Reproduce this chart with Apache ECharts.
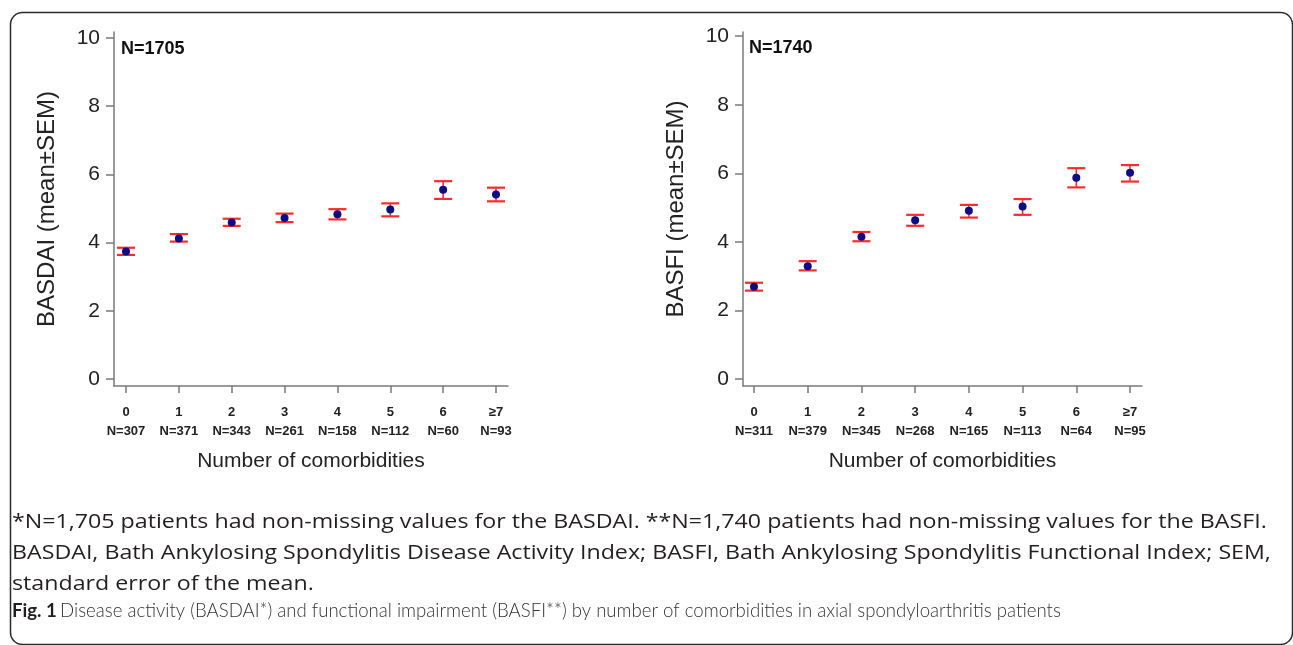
<!DOCTYPE html>
<html>
<head>
<meta charset="utf-8">
<script src="https://cdn.jsdelivr.net/npm/echarts@6/dist/echarts.min.js"></script>
<style>
  html, body { margin: 0; padding: 0; background: #fff; }
  #main { width: 1293px; height: 645px; }
</style>
</head>
<body>
<div id="main"></div>
<script>
/********** data **********/
var cats = ['0', '1', '2', '3', '4', '5', '6', '≥7'];
var yTicks = [0, 2, 4, 6, 8, 10];

var basdaiN = [307, 371, 343, 261, 158, 112, 60, 93];
var basdaiMean = [3.74, 4.12, 4.59, 4.72, 4.83, 4.97, 5.55, 5.41];
var basdaiLow = [3.64, 4.03, 4.49, 4.60, 4.68, 4.77, 5.28, 5.21];
var basdaiHigh = [3.85, 4.25, 4.70, 4.85, 4.98, 5.15, 5.80, 5.61];

var basfiN = [311, 379, 345, 268, 165, 113, 64, 95];
var basfiMean = [2.69, 3.29, 4.15, 4.63, 4.91, 5.03, 5.87, 6.02];
var basfiLow = [2.58, 3.17, 4.02, 4.47, 4.71, 4.79, 5.59, 5.76];
var basfiHigh = [2.81, 3.44, 4.29, 4.79, 5.08, 5.25, 6.15, 6.24];

var captionLines = [
  '*N=1,705 patients had non-missing values for the BASDAI. **N=1,740 patients had non-missing values for the BASFI.',
  'BASDAI, Bath Ankylosing Spondylitis Disease Activity Index; BASFI, Bath Ankylosing Spondylitis Functional Index; SEM,',
  'standard error of the mean.'
];
var figTitle = 'Disease activity (BASDAI*) and functional impairment (BASFI**) by number of comorbidities in axial spondyloarthritis patients';

/********** helpers **********/
var idx = cats.map(function (c, i) { return i; });
var axisGray = '#7a7a7a';
var font = 'Arial, "Liberation Sans", sans-serif';
var capFont = '"Open Sans", sans-serif';

function barData(mean, low, high) {
  return idx.map(function (i) { return [i, mean[i], low[i], high[i]]; });
}
function pointData(mean) {
  return idx.map(function (i) { return [i, mean[i]]; });
}

// red SEM bar with caps
function renderBar(params, api) {
  var x = api.value(0);
  var hi = api.coord([x, api.value(3)]);
  var lo = api.coord([x, api.value(2)]);
  var hw = 9;
  var st = { stroke: '#ff2b2b', lineWidth: 2.2 };
  return {
    type: 'group',
    children: [
      { type: 'line', shape: { x1: hi[0], y1: hi[1], x2: lo[0], y2: lo[1] }, style: { stroke: '#ff2b2b', lineWidth: 1.6 } },
      { type: 'line', shape: { x1: hi[0] - hw, y1: hi[1], x2: hi[0] + hw, y2: hi[1] }, style: st },
      { type: 'line', shape: { x1: lo[0] - hw, y1: lo[1], x2: lo[0] + hw, y2: lo[1] }, style: st }
    ]
  };
}

function makeX(gi, nArr, min, max) {
  return {
    type: 'value', gridIndex: gi, min: min, max: max,
    splitLine: { show: false },
    axisLine: { onZero: false, lineStyle: { color: axisGray, width: 1.5 } },
    axisTick: { customValues: idx, length: 7, lineStyle: { color: axisGray, width: 1.5 } },
    axisLabel: {
      customValues: idx, margin: 17, lineHeight: 19,
      fontSize: 13, fontWeight: 'bold', color: '#222', fontFamily: font,
      formatter: function (v) { return cats[v] + '\nN=' + nArr[v]; }
    },
    name: 'Number of comorbidities', nameLocation: 'middle', nameGap: 65,
    nameTextStyle: { fontSize: 21, color: '#222', fontFamily: font }
  };
}

function makeY(gi, name, max) {
  return {
    type: 'value', gridIndex: gi, min: -0.2, max: max,
    splitLine: { show: false },
    axisLine: { show: true, onZero: false, lineStyle: { color: axisGray, width: 1.5 } },
    axisTick: { show: true, customValues: yTicks, length: 8, lineStyle: { color: axisGray, width: 1.5 } },
    axisLabel: { customValues: yTicks, margin: 14, fontSize: 21, color: '#222', fontFamily: font },
    name: name, nameLocation: 'middle', nameGap: 55,
    nameTextStyle: { fontSize: 24, color: '#222', fontFamily: font }
  };
}

function captionText(i, y) {
  return {
    type: 'text', x: 12, y: y, scaleX: 1.16,
    style: { text: captionLines[i], font: '20px ' + capFont, fill: '#231f20', verticalAlign: 'middle' }
  };
}

var chart = echarts.init(document.getElementById('main'));

var option = {
  backgroundColor: '#fff',
  animation: false,
  grid: [
    { left: 114, right: 785, top: 32, bottom: 259 },
    { left: 743, right: 151, top: 32, bottom: 259 }
  ],
  xAxis: [
    makeX(0, basdaiN, -0.227, 7.227),
    makeX(1, basfiN, -0.205, 7.223)
  ],
  yAxis: [
    makeY(0, 'BASDAI (mean±SEM)', 10.17),
    makeY(1, 'BASFI (mean±SEM)', 10.12)
  ],
  series: [
    { type: 'custom', xAxisIndex: 0, yAxisIndex: 0, renderItem: renderBar, data: barData(basdaiMean, basdaiLow, basdaiHigh) },
    { type: 'scatter', xAxisIndex: 0, yAxisIndex: 0, symbolSize: 8, itemStyle: { color: '#0c0c85', opacity: 1 }, z: 5, data: pointData(basdaiMean) },
    { type: 'custom', xAxisIndex: 1, yAxisIndex: 1, renderItem: renderBar, data: barData(basfiMean, basfiLow, basfiHigh) },
    { type: 'scatter', xAxisIndex: 1, yAxisIndex: 1, symbolSize: 8, itemStyle: { color: '#0c0c85', opacity: 1 }, z: 5, data: pointData(basfiMean) }
  ],
  graphic: [
    { type: 'rect', left: 8, top: 10, shape: { width: 1282, height: 632, r: 12 }, style: { fill: 'none', stroke: '#2a2a2a', lineWidth: 1.5 }, z: 0 },
    { type: 'text', x: 121, y: 49, style: { text: 'N=1705', font: 'bold 18px ' + font, fill: '#111', verticalAlign: 'middle' } },
    { type: 'text', x: 749, y: 48, style: { text: 'N=1740', font: 'bold 18px ' + font, fill: '#111', verticalAlign: 'middle' } },
    captionText(0, 522),
    captionText(1, 553),
    captionText(2, 584),
    {
      type: 'text', x: 12, y: 611,
      style: {
        text: '{b|Fig. 1} {r|' + figTitle + '}',
        verticalAlign: 'middle',
        rich: {
          b: { fontFamily: 'Lato, sans-serif', fontSize: 18.6, fontWeight: 'bold', fill: '#231f20' },
          r: { fontFamily: 'Lato, sans-serif', fontSize: 18.6, fontWeight: 300, fill: '#333' }
        }
      }
    }
  ]
};

chart.setOption(option);
</script>
</body>
</html>
